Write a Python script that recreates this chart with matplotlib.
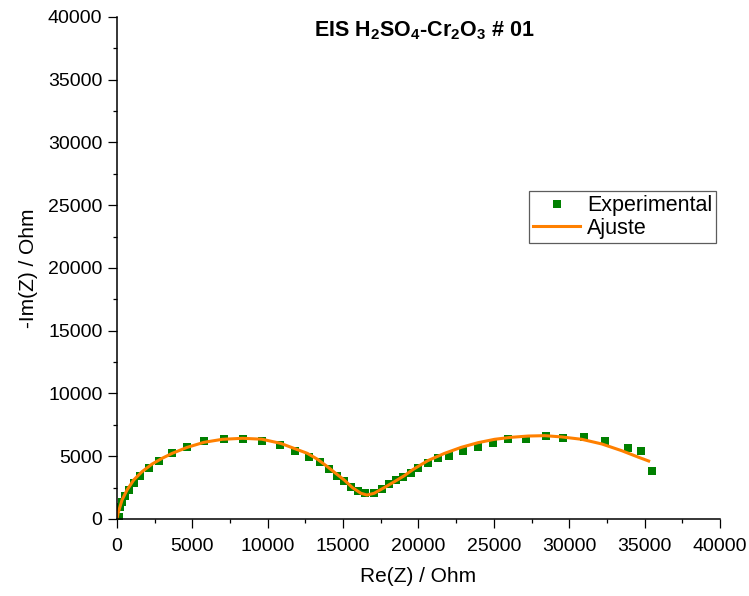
"""EIS Nyquist plot: H2SO4-Cr2O3 #01, experimental points and fit."""

import matplotlib
matplotlib.use('Agg')
import matplotlib.pyplot as plt
from matplotlib.ticker import MultipleLocator

re_exp = [0, 153, 220, 333, 553, 779, 1110, 1550, 2110, 2775, 3620, 4640,
          5790, 7080, 8370, 9650, 10810, 11780, 12740, 13470, 14070, 14580,
          15070, 15510, 15960, 16440, 17060, 17560, 18060, 18510, 18950,
          19480, 20000, 20620, 21290, 22020, 22950, 23950, 24950, 25950,
          27160, 28430, 29610, 31000, 32380, 33930, 34780, 35490]
im_exp = [60, 183, 980, 1380, 1830, 2310, 2890, 3450, 4040, 4650, 5230, 5760,
          6190, 6370, 6400, 6240, 5900, 5420, 4960, 4510, 3960, 3450,
          3030, 2570, 2230, 2050, 2100, 2390, 2790, 3110, 3370,
          3690, 4100, 4440, 4840, 5050, 5440, 5710, 6030, 6400,
          6370, 6610, 6430, 6560, 6240, 5630, 5420, 3820]

# Fitted curve (Ohm)
re_fit = [0, 67, 333, 666, 1110, 1660, 2330, 3000, 3660, 4660, 5770, 6990,
          8320, 9600, 10850, 11740, 12630, 13300, 13960, 14510, 15070, 15620,
          16180, 16580, 17060, 17730, 18400, 19060, 19620, 20620, 21730,
          22840, 23950, 25050, 26160, 27280, 28380, 29490, 30830, 32160,
          33490, 34600, 35270]
im_fit = [0, 450, 1510, 2310, 3110, 3770, 4380, 4840, 5230, 5710, 6110, 6350,
          6430, 6360, 6030, 5630, 5230, 4760, 4170, 3640, 3110, 2500,
          2050, 1910, 2050, 2500, 2970, 3450, 3930, 4650, 5230,
          5710, 6080, 6350, 6510, 6610, 6640, 6540, 6350, 5980,
          5440, 4920, 4620]

plt.rcParams['font.family'] = ['Liberation Sans', 'DejaVu Sans']
plt.rcParams['mathtext.fontset'] = 'custom'
plt.rcParams['mathtext.rm'] = 'Liberation Sans'
plt.rcParams['mathtext.bf'] = 'Liberation Sans:bold'

fig = plt.figure(figsize=(7.49, 5.96), dpi=100)
fig.patch.set_facecolor('white')
ax = fig.add_axes([0.1562, 0.1292, 0.805, 0.8423])

ax.plot(re_exp, im_exp, linestyle='none', marker='s', markersize=5.8,
        color='#008000', markeredgewidth=0, label='Experimental')
ax.plot(re_fit, im_fit, color='#FF8000', linewidth=2.2, label='Ajuste')

ax.set_xlim(0, 40000)
ax.set_ylim(0, 40000)
ax.xaxis.set_major_locator(MultipleLocator(5000))
ax.xaxis.set_minor_locator(MultipleLocator(2500))
ax.yaxis.set_major_locator(MultipleLocator(5000))
ax.yaxis.set_minor_locator(MultipleLocator(2500))

# Origin-style axes: only left and bottom, outward ticks
ax.spines['top'].set_visible(False)
ax.spines['right'].set_visible(False)
ax.spines['left'].set_linewidth(1.1)
ax.spines['bottom'].set_linewidth(1.1)
ax.tick_params(which='major', direction='out', length=6.5, width=0.9,
               labelsize=14, pad=4)
ax.tick_params(which='minor', direction='out', length=3, width=0.9)
ax.tick_params(axis='x', which='major', pad=7)

ax.set_xlabel('Re(Z) / Ohm', fontsize=15, labelpad=9)
ax.set_ylabel('-Im(Z) / Ohm', fontsize=15, labelpad=7)

ax.text(0.51, 0.972,
        r'EIS H$_\mathbf{2}$SO$_\mathbf{4}$-Cr$_\mathbf{2}$O$_\mathbf{3}$ # 01',
        transform=ax.transAxes, ha='center', va='center',
        fontsize=15.5, fontweight='bold')

leg = ax.legend(loc='upper left', bbox_to_anchor=(0.683, 0.653),
                fontsize=15.5, frameon=True, fancybox=False,
                handlelength=2.2, handletextpad=0.3, borderpad=0.2,
                labelspacing=0.05, borderaxespad=0, markerscale=1.0)
leg.get_frame().set_edgecolor('#333333')
leg.get_frame().set_linewidth(0.9)

plt.savefig('out.png', dpi=100, facecolor='white')
plt.close(fig)
